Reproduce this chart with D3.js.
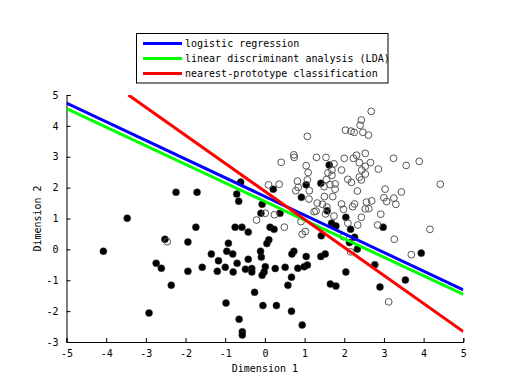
<!DOCTYPE html>
<html><head><meta charset="utf-8">
<script src="https://cdn.jsdelivr.net/npm/d3@7"></script>
<style>body{margin:0;background:#fff}svg{display:block}</style>
</head><body>
<svg id="c" width="512" height="384"></svg>
<script>
// ---- data ----
const xTicks = [-5,-4,-3,-2,-1,0,1,2,3,4,5];
const yTicks = [-3,-2,-1,0,1,2,3,4,5];
const xLabel = "Dimension 1";
const yLabel = "Dimension 2";
const legendLabels = ["logistic regression","linear discriminant analysis (LDA)","nearest-prototype classification"];
const lineColors = ["#0000ff","#00ff00","#ff0000"];
// decision boundaries: endpoints in data coords
const boundaryX = [[-5,5],[-5,5],[-3.44,5]];
const boundaryY = [[4.74,-1.31],[4.56,-1.46],[5,-2.66]];
// class 1 (filled)
const class1 = [[-2.24,1.85],[-1.71,1.85],[-3.47,1.01],[-1.74,0.72],[-4.07,-0.06],[-2.52,0.33],[-1.94,0.24],[-2.74,-0.45],[-2.61,-0.61],[-1.94,-0.71],[-2.36,-1.16],[-2.92,-2.06],[-0.75,0.72],[-0.58,0.72],[-0.42,0.56],[-0.92,0.20],[-0.96,-0.06],[-0.81,-0.15],[0.10,0.31],[0.05,0.19],[0.13,0.72],[0.23,0.65],[-1.35,-0.15],[-1.17,-0.37],[-0.70,-0.45],[-1.58,-0.58],[-1.20,-0.71],[-1.00,-0.58],[-0.80,-0.73],[-0.49,-0.64],[-0.33,-0.62],[-0.33,-0.73],[-0.42,-0.32],[-0.11,-0.06],[-0.09,-0.25],[0.01,-0.56],[-0.02,-0.73],[-0.07,-0.84],[0.26,-0.62],[0.51,-0.58],[0.67,-0.90],[0.58,-1.16],[0.73,-0.06],[0.68,-0.15],[1.04,-0.23],[0.83,-0.61],[0.99,-0.56],[1.07,-0.51],[1.41,-0.23],[1.52,-0.15],[1.65,-1.12],[-0.26,-1.39],[-0.98,-1.74],[-0.05,-1.82],[0.29,-1.82],[0.67,-2.00],[-0.65,-2.26],[0.94,-2.45],[-0.57,-2.67],[-0.57,-2.77],[0.38,1.17],[-0.10,1.17],[-0.61,2.18],[-0.71,1.79],[-0.66,1.56],[0.21,1.95],[-0.07,1.46],[0.92,1.69],[1.04,2.09],[1.41,2.14],[1.62,2.73],[1.57,1.25],[2.04,1.04],[1.68,0.85],[1.79,0.76],[2.16,0.65],[2.98,0.72],[1.42,0.44],[2.26,0.39],[2.13,0.22],[2.33,0.01],[3.94,-0.12],[2.04,-0.73],[2.77,-0.50],[1.79,-1.19],[3.54,-0.99],[2.90,-1.22]];
// class 2 (open)
const class2 = [[1.07,3.66],[0.41,2.82],[0.73,3.06],[0.74,2.98],[1.04,2.71],[1.09,2.49],[1.30,2.98],[1.54,2.98],[0.09,2.09],[0.36,2.11],[0.82,2.21],[1.07,2.25],[0.84,2.01],[0.78,1.90],[1.12,1.90],[1.55,2.26],[1.49,2.03],[1.50,1.71],[1.11,1.63],[1.32,1.50],[1.45,1.46],[1.29,1.24],[1.53,1.15],[0.24,1.12],[0.01,1.17],[-0.21,0.95],[1.59,2.48],[2.68,4.47],[2.43,4.19],[2.40,4.02],[2.03,3.86],[2.17,3.83],[2.25,3.79],[2.47,3.79],[2.61,3.70],[2.00,2.95],[2.23,2.95],[2.31,3.05],[2.53,3.11],[2.38,2.81],[2.66,2.81],[2.53,2.69],[2.44,2.57],[2.86,2.60],[3.24,2.95],[3.56,2.72],[3.89,2.85],[1.74,2.77],[1.69,2.57],[1.93,2.57],[1.69,2.40],[2.09,2.27],[2.18,2.17],[2.38,2.34],[2.53,2.44],[2.43,2.25],[1.64,2.10],[1.77,2.12],[1.77,1.95],[2.33,1.89],[3.03,1.95],[3.44,1.86],[4.42,2.11],[1.71,1.71],[3.00,1.67],[3.25,1.66],[3.07,1.55],[3.30,1.46],[1.93,1.47],[2.21,1.38],[2.26,1.47],[2.56,1.53],[2.69,1.57],[2.62,1.32],[2.53,1.31],[1.98,1.30],[1.56,1.37],[2.92,1.14],[2.43,1.04],[1.74,1.08],[2.09,0.85],[2.34,0.79],[2.84,0.79],[4.16,0.65],[3.26,0.33],[1.98,0.41],[3.69,-0.17],[2.16,-0.08],[3.12,-1.70],[-2.46,0.25],[0.49,0.72],[0.91,0.90],[1.02,0.58],[1.24,1.22],[0.94,0.49],[2.77,-0.50]];

// ---- layout ----
const svg = d3.select("#c");
const L = 66.5, R = 463.3, T = 95, B = 342;
const x = d3.scaleLinear().domain([-5,5]).range([L,R]);
const y = d3.scaleLinear().domain([-3,5]).range([B,T]);
const font = "'DejaVu Sans Mono', monospace";

svg.append("defs").append("clipPath").attr("id","clip")
  .append("rect").attr("x",L).attr("y",T).attr("width",R-L).attr("height",B-T);

// axes
const xAxis = d3.axisBottom(x).tickValues(xTicks).tickSize(-4).tickPadding(8).tickFormat(d=>String(d));
const yAxis = d3.axisLeft(y).tickValues(yTicks).tickSize(-4).tickPadding(8).tickFormat(d=>String(d));
const gx = svg.append("g").attr("transform",`translate(0,${B})`).call(xAxis);
const gy = svg.append("g").attr("transform",`translate(${L},0)`).call(yAxis);
[gx,gy].forEach(g=>{
  g.select(".domain").attr("stroke","#000").attr("stroke-width",1);
  g.selectAll(".tick line").attr("stroke","#000");
  g.selectAll(".tick text").attr("font-family",font).attr("font-size",10).attr("fill","#000");
});

svg.append("text").attr("x",(L+R)/2).attr("y",372).attr("text-anchor","middle")
  .attr("font-family",font).attr("font-size",10).text(xLabel);
svg.append("text").attr("transform",`translate(41,${(T+B)/2}) rotate(-90)`).attr("text-anchor","middle")
  .attr("font-family",font).attr("font-size",10).text(yLabel);

// points
const pg = svg.append("g").attr("clip-path","url(#clip)");
pg.selectAll("circle.c1").data(class1).join("circle").attr("class","c1")
  .attr("cx",d=>x(d[0])).attr("cy",d=>y(d[1])).attr("r",3.5).attr("fill","#000").attr("stroke","#333").attr("stroke-width",0.5);
pg.selectAll("circle.c2").data(class2).join("circle").attr("class","c2")
  .attr("cx",d=>x(d[0])).attr("cy",d=>y(d[1])).attr("r",3.4).attr("fill","none").attr("stroke","#555").attr("stroke-width",1);

// boundary lines
const lineGen = d3.line().x(d=>x(d[0])).y(d=>y(d[1]));
boundaryX.forEach((bx,i)=>{
  const pts = bx.map((v,j)=>[v,boundaryY[i][j]]);
  pg.append("path").attr("d",lineGen(pts)).attr("stroke",lineColors[i]).attr("stroke-width",3).attr("fill","none");
});

// legend
const lg = svg.append("g");
lg.append("rect").attr("x",136.5).attr("y",33.5).attr("width",251.5).attr("height",49.5)
  .attr("fill","#fff").attr("stroke","#000").attr("stroke-width",1);
legendLabels.forEach((t,i)=>{
  const ly = 43.5 + i*15;
  lg.append("line").attr("x1",143).attr("x2",182).attr("y1",ly).attr("y2",ly)
    .attr("stroke",lineColors[i]).attr("stroke-width",3);
  lg.append("text").attr("x",185).attr("y",ly+3.5).attr("font-family",font).attr("font-size",10).text(t);
});
</script>
</body></html>
